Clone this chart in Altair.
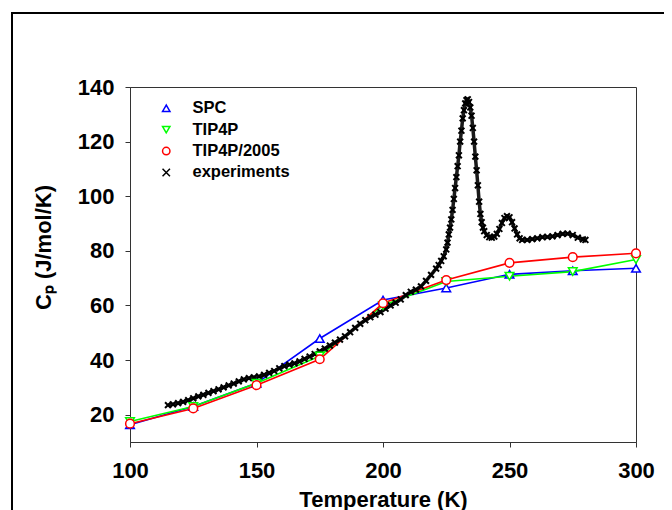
import altair as alt
import pandas as pd

# ---- data ----
temps = [100, 125, 150, 175, 200, 225, 250, 275, 300]
spc = [16.3, 23.0, 31.5, 47.9, 62.0, 66.4, 71.4, 72.7, 73.6]
tip4p = [17.5, 23.0, 31.5, 41.5, 60.0, 68.8, 70.7, 72.4, 76.8]
tip4p2005 = [16.7, 22.3, 30.8, 40.3, 60.8, 69.3, 75.6, 77.7, 79.1]

exp_T = [115, 117, 119, 121, 123, 125, 127, 129, 131, 133, 135, 137, 139, 141, 143, 145,
         147, 149, 151, 153, 155, 157, 159, 161, 163, 165, 167, 169, 171, 173, 175, 177,
         179, 181, 183, 185, 187, 189, 191, 193, 195, 197, 199, 201, 203, 205, 207, 209,
         211, 213, 215, 217, 219, 221, 222, 223, 224, 225, 225.5, 226, 226.5, 227, 227.5,
         228, 228.5, 229, 229.5, 230, 230.5, 231, 231.5, 232, 232.5, 233, 233.5, 234,
         234.5, 235, 235.5, 236, 236.5, 237, 237.5, 238, 238.5, 239, 239.5, 240, 241, 242,
         243, 244, 245, 246, 247, 248, 249, 250, 251, 252, 253, 254, 255, 257, 259, 261,
         263, 265, 267, 269, 271, 273, 275, 277, 279, 280]
exp_cp = [23.5, 23.8, 24.2, 24.7, 25.3, 26.0, 26.7, 27.3, 28.0, 28.6, 29.3, 30.0, 30.7,
          31.4, 32.2, 32.9, 33.4, 33.7, 34.0, 34.6, 35.3, 36.0, 37.0, 37.8, 38.3, 38.8,
          39.5, 40.4, 41.3, 42.2, 43.2, 44.2, 45.3, 46.4, 47.5, 48.7, 50.2, 51.8, 53.3,
          54.6, 55.7, 56.6, 57.6, 58.8, 60.0, 61.0, 62.2, 63.8, 65.0, 65.8, 67.0, 69.0,
          71.2, 73.5, 74.8, 76.3, 78.0, 80.5, 83.0, 86.0, 88.5, 91.5, 95.0, 99.0, 103.0,
          107.0, 111.0, 115.0, 120.0, 124.0, 128.5, 131.5, 134.0, 135.2, 135.5, 134.5,
          132.5, 129.5, 125.0, 120.0, 114.5, 109.5, 104.0, 98.0, 93.5, 90.5, 88.5, 87.2,
          85.8, 85.0, 84.8, 85.2, 86.2, 88.0, 90.2, 92.0, 92.7, 92.3, 90.5, 88.2, 86.0,
          84.6, 84.0, 84.0, 84.3, 84.6, 85.0, 85.1, 85.3, 85.8, 86.2, 86.3, 85.8, 84.8,
          84.2, 84.0]

series = ["SPC", "TIP4P", "TIP4P/2005", "experiments"]
colors = ["#0000ff", "#00ff00", "#ff0000", "#000000"]
shapes = ["triangle-up", "triangle-down", "circle", "M-1,-1L1,1M-1,1L1,-1"]

sim = pd.DataFrame({
    "T": temps * 3,
    "Cp": spc + tip4p + tip4p2005,
    "series": ["SPC"] * 9 + ["TIP4P"] * 9 + ["TIP4P/2005"] * 9,
})
exp = pd.DataFrame({"T": exp_T, "Cp": exp_cp, "series": ["experiments"] * len(exp_T)})

FONT = "Liberation Sans"

xsc = alt.Scale(domain=[100, 300], nice=False, zero=False)
ysc = alt.Scale(domain=[10, 140], nice=False, zero=False)

x_axis = alt.Axis(values=[100, 150, 200, 250, 300], title="Temperature (K)", grid=False,
                  labelFont=FONT, labelFontWeight="bold", labelFontSize=22, labelColor="black",
                  titleFont=FONT, titleFontWeight="bold", titleFontSize=22, titleColor="black",
                  tickSize=5, labelPadding=13, titlePadding=8, labelFlush=False,
                  domainColor="#333333", tickColor="#333333")
y_axis = alt.Axis(values=[20, 40, 60, 80, 100, 120, 140], title="Cₚ (J/mol/K)", grid=False,
                  labelFont=FONT, labelFontWeight="bold", labelFontSize=22, labelColor="black",
                  titleFont=FONT, titleFontWeight="bold", titleFontSize=22, titleColor="black",
                  tickSize=5, labelPadding=11, labelFlush=False,
                  titleAngle=270, titleX=-80, titleY=160, titleBaseline="alphabetic",
                  titleAlign="center",
                  domainColor="#333333", tickColor="#333333")

legend = alt.Legend(title=None, orient="none", legendX=28, legendY=13,
                    labelFont=FONT, labelFontWeight="bold", labelFontSize=16.5,
                    labelColor="black", labelOffset=18, rowPadding=4.4,
                    symbolSize=55, symbolStrokeWidth=1.5)

color_enc = alt.Color("series:N", scale=alt.Scale(domain=series, range=colors), legend=legend)
shape_enc = alt.Shape("series:N", scale=alt.Scale(domain=series, range=shapes), legend=legend)

X = alt.X("T:Q", scale=xsc, axis=x_axis)
Y = alt.Y("Cp:Q", scale=ysc, axis=y_axis)

one = alt.Data(values=[{"a": 1}])
frame_left = alt.Chart(one).mark_rule(stroke="black", strokeWidth=2).encode(
    x=alt.value(-118), y=alt.value(-74), y2=alt.value(427))
frame_top = alt.Chart(one).mark_rule(stroke="black", strokeWidth=2).encode(
    x=alt.value(-119), x2=alt.value(534), y=alt.value(-74))

line_layers = []
for name, col in zip(series[:3], colors[:3]):
    line_layers.append(
        alt.Chart(sim).transform_filter(alt.datum.series == name)
        .mark_line(strokeWidth=1.6, color=col).encode(x=X, y=Y)
    )

exp_line = alt.Chart(exp).mark_line(strokeWidth=3.5, color="#1a1a1a").encode(x=X, y=Y)
exp_pts = alt.Chart(exp).mark_point(filled=False, size=34, strokeWidth=2, opacity=1).encode(
    x=X, y=Y, color=color_enc, shape=shape_enc)

sim_pts = alt.Chart(sim).mark_point(filled=False, fill="white", fillOpacity=1, size=75,
                                   strokeWidth=1.5, opacity=1).encode(
    x=X, y=Y, color=color_enc, shape=shape_enc)

chart = alt.layer(frame_left, frame_top, *line_layers, exp_line, exp_pts, sim_pts).properties(
    width=506, height=355,
    autosize=alt.AutoSizeParams(type="none"),
    padding={"left": 122, "top": 79, "right": 28, "bottom": 72},
    background="white",
).configure_view(stroke="#333333", strokeWidth=1)

chart.save("out.html", embed_options={"renderer": "svg", "actions": False})
